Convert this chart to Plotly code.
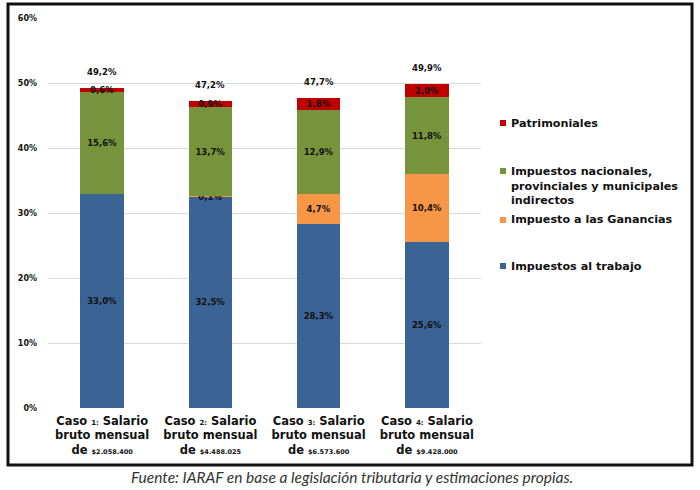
import plotly.graph_objects as go

categories = ["Caso 1", "Caso 2", "Caso 3", "Caso 4"]
cat_numbers = ["1:", "2:", "3:", "4:"]
salaries = ["$2.058.400", "$4.488.025", "$6.573.600", "$9.428.000"]

trabajo = [33.0, 32.5, 28.3, 25.6]
ganancias = [0.0, 0.1, 4.7, 10.4]
indirectos = [15.6, 13.7, 12.9, 11.8]
patrimoniales = [0.6, 0.9, 1.8, 2.0]
totales = [49.2, 47.2, 47.7, 49.9]

series = [
    ("Impuestos al trabajo", trabajo, "#3A6396"),
    ("Impuesto a las Ganancias", ganancias, "#F79646"),
    ("Impuestos nacionales, provinciales y municipales indirectos", indirectos, "#77933C"),
    ("Patrimoniales", patrimoniales, "#C00000"),
]

FONT = "DejaVu Sans"

def fmt(v):
    return f"{v:.1f}".replace(".", ",") + "%"

ticktext = [
    f"Caso <span style='font-size:7px'>{n}</span> Salario<br>bruto mensual<br>de <span style='font-size:6.5px'>{s}</span>"
    for n, s in zip(cat_numbers, salaries)
]

fig = go.Figure()
for name, vals, color in series:
    fig.add_trace(go.Bar(
        x=categories, y=vals, name=name,
        marker=dict(color=color, line=dict(width=0)),
        text=[fmt(v) if v > 0 else "" for v in vals],
        textposition="inside", insidetextanchor="middle",
        textfont=dict(family=FONT, size=8.5, color="#111111", weight="bold"),
        constraintext="none",
        showlegend=False,
    ))

for c, t, parts in zip(categories, totales, zip(trabajo, ganancias, indirectos, patrimoniales)):
    fig.add_annotation(x=c, y=sum(parts), text=fmt(t), showarrow=False, yshift=16,
                       font=dict(family=FONT, size=8.5, color="#111111", weight="bold"))

# Legend (manual)
L = 48; W = 433; B = 408; H = 390
def px(xp): return (xp - L) / W
def py(yp): return (B - yp) / H

legend_items = [
    ("#C00000", "Patrimoniales", 123, 123),
    ("#77933C", "Impuestos nacionales,<br>provinciales y municipales<br>indirectos", 186, 171),
    ("#F79646", "Impuesto a las Ganancias", 220, 220),
    ("#3A6396", "Impuestos al trabajo", 266, 266),
]
for color, txt, yc, ysq in legend_items:
    fig.add_shape(type="rect", xref="paper", yref="paper",
                  x0=px(500), x1=px(506), y0=py(ysq + 3), y1=py(ysq - 3),
                  fillcolor=color, line=dict(width=0))
    fig.add_annotation(xref="paper", yref="paper", x=px(509), y=py(yc), text=txt,
                       showarrow=False, xanchor="left", yanchor="middle", align="left",
                       font=dict(family=FONT, size=11.2, color="#111111", weight="bold"))

# Outer border
fig.add_shape(type="rect", xref="paper", yref="paper",
              x0=px(8), x1=px(692), y0=py(465), y1=py(4),
              line=dict(color="#111111", width=3), fillcolor="rgba(0,0,0,0)", layer="below")

# Source caption
fig.add_annotation(xref="paper", yref="paper", x=px(352), y=py(477),
                   text="Fuente: IARAF en base a legislación tributaria y estimaciones propias.",
                   showarrow=False, xanchor="center", yanchor="middle",
                   font=dict(family="Lato", size=15.5, color="#333333", style="italic"))

fig.update_layout(
    barmode="stack",
    bargap=0.6,
    width=700, height=490,
    margin=dict(l=48, r=219, t=18, b=82),
    paper_bgcolor="white", plot_bgcolor="white",
    uniformtext=dict(minsize=8.5, mode="show"),
    xaxis=dict(tickvals=categories, ticktext=ticktext, showgrid=False, zeroline=False,
               showline=False, ticks="", ticklabelstandoff=4,
               tickfont=dict(family=FONT, size=11.5, color="#111111", weight="bold")),
    yaxis=dict(range=[0, 60], dtick=10, ticksuffix="%", showgrid=True, gridcolor="#D9D9D9",
               gridwidth=1, zeroline=False, showline=False, ticklabelstandoff=10,
               tickfont=dict(family=FONT, size=8, color="#111111", weight="bold")),
)

fig.write_html("out.html")
